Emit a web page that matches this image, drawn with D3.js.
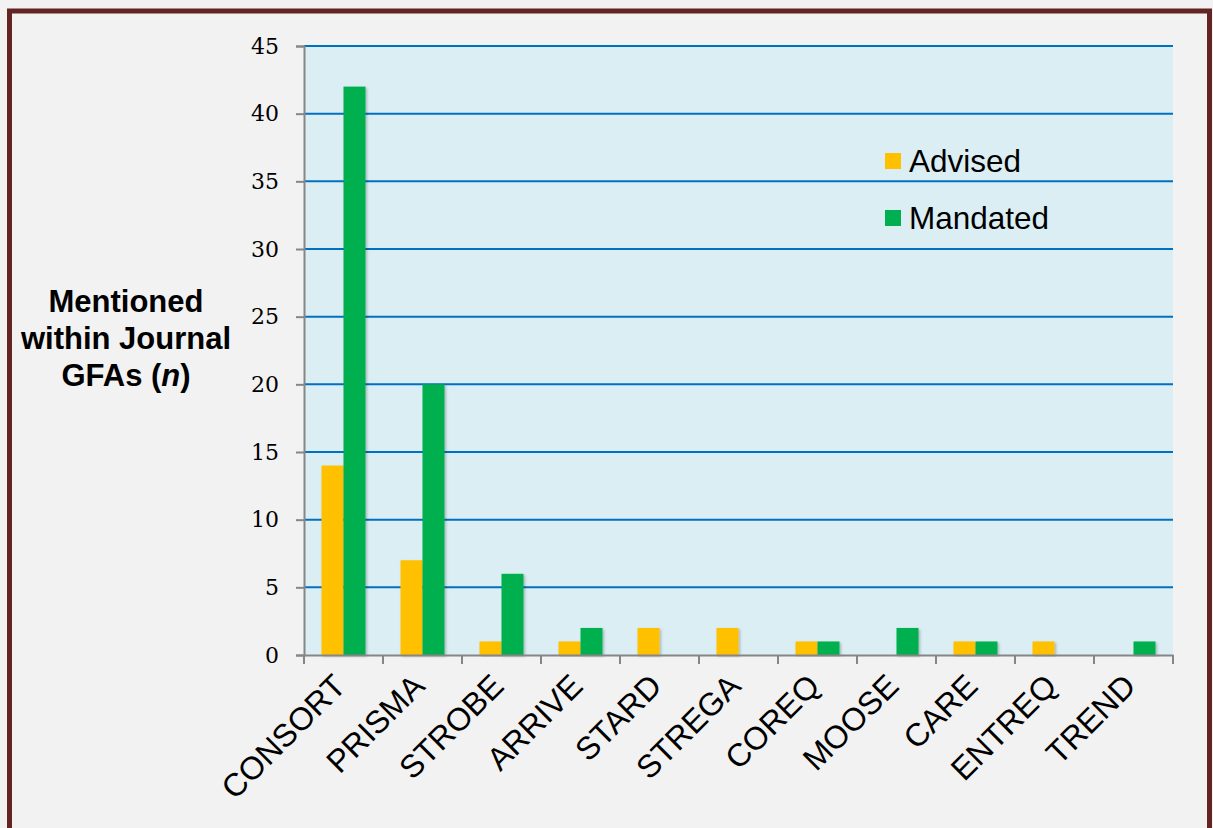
<!DOCTYPE html>
<html><head><meta charset="utf-8">
<script src="https://cdn.jsdelivr.net/npm/d3@7"></script>
<style>body{margin:0;background:#f2f2f2;}svg{display:block;}</style>
</head><body>
<svg id="c" width="1213" height="828"></svg>
<script>
const categories = ["CONSORT","PRISMA","STROBE","ARRIVE","STARD","STREGA","COREQ","MOOSE","CARE","ENTREQ","TREND"];
const advised = [14,7,1,1,2,2,1,0,1,1,0];
const mandated = [42,20,6,2,0,0,1,2,1,0,1];
const yTicks = [0,5,10,15,20,25,30,35,40,45];
const seriesNames = ["Advised","Mandated"];
const seriesColors = ["#ffc000","#00b050"];

const svg = d3.select("#c");
const W = 1213, H = 828;
svg.append("rect").attr("width",W).attr("height",H).attr("fill","#f2f2f2");
svg.append("rect").attr("x",9.5).attr("y",11).attr("width",1200).attr("height",860)
  .attr("fill","none").attr("stroke","#632523").attr("stroke-width",5);

const defs = svg.append("defs");
const f = defs.append("filter").attr("id","sh").attr("x","-20%").attr("y","-5%").attr("width","150%").attr("height","115%");
f.append("feDropShadow").attr("dx",1.5).attr("dy",1.5).attr("stdDeviation",1.2).attr("flood-color","#000").attr("flood-opacity",0.25);

const L = 304, R = 1173, T = 46, B = 655;
const x = d3.scaleBand().domain(categories).range([L,R]).paddingInner(0).paddingOuter(0);
const y = d3.scaleLinear().domain([0,45]).range([B,T]);

svg.append("rect").attr("x",L).attr("y",T).attr("width",R-L).attr("height",B-T).attr("fill","#dbeef4");

// gridlines
svg.append("g").selectAll("line").data(yTicks.filter(d=>d>0)).join("line")
  .attr("x1",L).attr("x2",R).attr("y1",d=>y(d)).attr("y2",d=>y(d))
  .attr("stroke","#0070c0").attr("stroke-width",2);

// bars
const bw = 22;
const data = categories.map((c,i)=>({c, vals:[advised[i],mandated[i]]}));
const gBars = svg.append("g");
data.forEach(d=>{
  const cx = x(d.c) + x.bandwidth()/2;
  d.vals.forEach((v,j)=>{
    if (v<=0) return;
    gBars.append("rect").attr("x",cx - bw + j*bw).attr("y",y(v)).attr("width",bw).attr("height",y(0)-y(v))
      .attr("fill",seriesColors[j]).attr("filter","url(#sh)");
  });
});

// y axis
const yAxis = d3.axisLeft(y).tickValues(yTicks).tickSize(8).tickPadding(17).tickFormat(d3.format("d"));
const gy = svg.append("g").attr("transform",`translate(${L},0)`).call(yAxis);
gy.select(".domain").attr("stroke","#868686").attr("stroke-width",2);
gy.selectAll(".tick line").attr("stroke","#868686").attr("stroke-width",2);
gy.selectAll(".tick text").attr("font-family","'DejaVu Serif', serif").attr("font-size",22).attr("fill","#000");

// x axis
const xAxis = d3.axisBottom(x).tickSize(0).tickFormat("");
const gx = svg.append("g").attr("transform",`translate(0,${B})`).call(xAxis);
gx.select(".domain").attr("stroke","#868686").attr("stroke-width",2);
gx.selectAll(".tick").remove();
const bounds = categories.map(c=>x(c)).concat([R]);
gx.selectAll("line.tk").data(bounds).join("line").attr("class","tk")
  .attr("x1",d=>d).attr("x2",d=>d).attr("y1",0).attr("y2",9).attr("stroke","#868686").attr("stroke-width",2);
gx.selectAll("text.lbl").data(categories).join("text").attr("class","lbl")
  .attr("transform",d=>`translate(${x(d)+x.bandwidth()/2+4},${33}) rotate(-45)`)
  .attr("text-anchor","end").attr("font-family","'Liberation Sans', Arial, sans-serif").attr("font-size",32)
  .attr("fill","#000").text(d=>d);

// y title
const tt = svg.append("text").attr("font-family","'Liberation Sans', Arial, sans-serif").attr("font-size",31)
  .attr("font-weight","bold").attr("text-anchor","middle").attr("fill","#000");
tt.append("tspan").attr("x",126).attr("y",312).text("Mentioned");
tt.append("tspan").attr("x",126).attr("y",349).text("within Journal");
const t3 = tt.append("tspan").attr("x",126).attr("y",386);
t3.append("tspan").text("GFAs (");
t3.append("tspan").attr("font-style","italic").text("n");
t3.append("tspan").text(")");

// legend
const lg = svg.append("g");
seriesNames.forEach((n,i)=>{
  const yy = 161 + i*57;
  lg.append("rect").attr("x",885).attr("y",yy-8).attr("width",16).attr("height",16).attr("fill",seriesColors[i]);
  lg.append("text").attr("x",909).attr("y",yy+11).attr("font-family","'Liberation Sans', Arial, sans-serif")
    .attr("font-size",31.5).attr("fill","#000").text(n);
});
</script>
</body></html>
